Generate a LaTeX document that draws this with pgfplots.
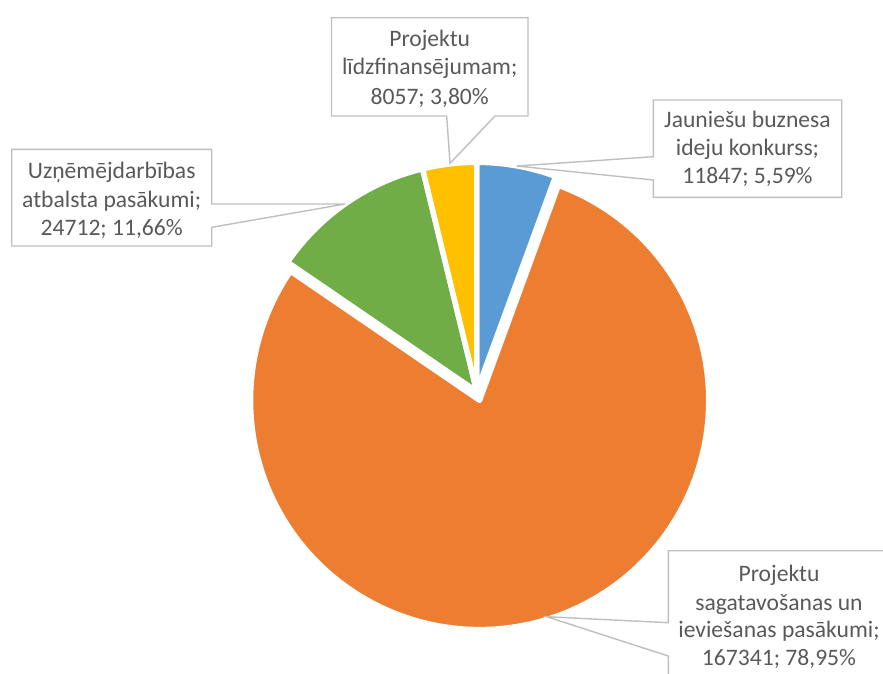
\documentclass[border=0pt]{standalone}
\usepackage{pgfplots}
\pgfplotsset{compat=1.18}
\usepackage{pgfplotstable}
\usepackage{fontspec}
\setmainfont{Carlito}
\definecolor{cblue}{HTML}{5B9BD5}
\definecolor{corange}{HTML}{ED7D31}
\definecolor{cgreen}{HTML}{70AD47}
\definecolor{cyellow}{HTML}{FFC000}
\definecolor{ctext}{HTML}{595959}
\definecolor{cborder}{HTML}{BFBFBF}

\pgfplotstableread{
label value
Jauniesu 11847
Sagatavosanas 167341
Uznemejdarbibas 24712
Lidzfinansejumam 8057
}\piedata
\pgfplotstablegetelem{0}{value}\of\piedata\edef\va{\pgfplotsretval}
\pgfplotstablegetelem{1}{value}\of\piedata\edef\vb{\pgfplotsretval}
\pgfplotstablegetelem{2}{value}\of\piedata\edef\vc{\pgfplotsretval}
\pgfplotstablegetelem{3}{value}\of\piedata\edef\vd{\pgfplotsretval}
\edef\tot{\fpeval{\va+\vb+\vc+\vd}}
\edef\pA{\fpeval{round(360*\va/\tot,4)}}
\edef\pB{\fpeval{round(360*(\va+\vb)/\tot,4)}}
\edef\pC{\fpeval{round(360*(\va+\vb+\vc)/\tot,4)}}
\def\cx{476.7}\def\cy{391.4}\def\R{229}
\edef\ox{\fpeval{round(\cx+9.5*sind((\pA+\pB)/2),3)}}
\edef\oy{\fpeval{round(\cy-9.5*cosd((\pA+\pB)/2),3)}}

% slice: center x, center y, start angle, end angle (clockwise from top), style
\newcommand\pieslice[5]{%
  \path[#5] (axis cs:#1,#2) --
    (axis cs:{\fpeval{#1+\R*sind(#3)}},{\fpeval{#2-\R*cosd(#3)}})
    arc[start angle={90-#3}, end angle={90-#4}, radius=\R pt] -- cycle;}

\newcommand\lbl[3]{\node[anchor=base, text=ctext, inner sep=0pt,
  font=\fontsize{23.6}{28}\selectfont] at (axis cs:#1,#2) {#3};}

\begin{document}
\begin{tikzpicture}
\useasboundingbox (0,0) rectangle (883pt,-673pt);
\clip (0,0) rectangle (883pt,-673pt);
\begin{axis}[at={(0,0)}, anchor=north west, hide axis, scale only axis,
  width=883pt, height=673pt, xmin=0, xmax=883, ymin=0, ymax=673,
  y dir=reverse, clip=false]
% slices
\pieslice{\ox}{\oy}{\pA}{\pB}{fill=corange}
\pieslice{\cx}{\cy}{0}{\pA}{fill=cblue}
\pieslice{\cx}{\cy}{\pB}{\pC}{fill=cgreen}
\pieslice{\cx}{\cy}{\pC}{360}{fill=cyellow}
% white borders
\pieslice{\ox}{\oy}{\pA}{\pB}{draw=white, line width=5.3pt, line join=round}
\pieslice{\cx}{\cy}{0}{\pA}{draw=white, line width=5.3pt, line join=round}
\pieslice{\cx}{\cy}{\pB}{\pC}{draw=white, line width=5.3pt, line join=round}
\pieslice{\cx}{\cy}{\pC}{360}{draw=white, line width=5.3pt, line join=round}
% callouts
\draw[cborder, line width=1.4pt] (axis cs:653.3,100) -- (axis cs:841.7,100) -- (axis cs:841.7,197.3) -- (axis cs:653.3,197.3) -- (axis cs:653.3,180) -- (axis cs:516.7,166) -- (axis cs:653.3,156.7) -- cycle;
\draw[cborder, line width=1.4pt] (axis cs:331.5,17.7) -- (axis cs:528,17.7) -- (axis cs:528,116) -- (axis cs:495,116) -- (axis cs:450,163.3) -- (axis cs:446.7,116) -- (axis cs:331.5,116) -- cycle;
\draw[cborder, line width=1.4pt] (axis cs:11.7,149.3) -- (axis cs:211.7,149.3) -- (axis cs:211.7,204) -- (axis cs:345,204) -- (axis cs:211.7,227.3) -- (axis cs:211.7,246) -- (axis cs:11.7,246) -- cycle;
\draw[cborder, line width=1.4pt] (axis cs:668.3,550.7) -- (axis cs:895,550.7) -- (axis cs:895,690) -- (axis cs:668.3,690) -- (axis cs:668.3,656) -- (axis cs:546.7,616.7) -- (axis cs:668.3,622.7) -- cycle;
% labels
\lbl{747.5}{127.3}{Jauniešu buznesa}
\lbl{747.5}{155.3}{ideju konkurss;}
\lbl{747.5}{183.3}{11847; 5,59\%}
\lbl{429.7}{46.5}{Projektu}
\lbl{429.7}{74.5}{līdzfinansējumam;}
\lbl{429.7}{104}{8057; 3,80\%}
\lbl{111.7}{178.3}{Uzņēmējdarbības}
\lbl{111.7}{207}{atbalsta pasākumi;}
\lbl{111.7}{235.7}{24712; 11,66\%}
\lbl{779}{581.7}{Projektu}
\lbl{779}{610}{sagatavošanas un}
\lbl{779}{637.5}{ieviešanas pasākumi;}
\lbl{779}{665}{167341; 78,95\%}
\end{axis}
\end{tikzpicture}
\end{document}
